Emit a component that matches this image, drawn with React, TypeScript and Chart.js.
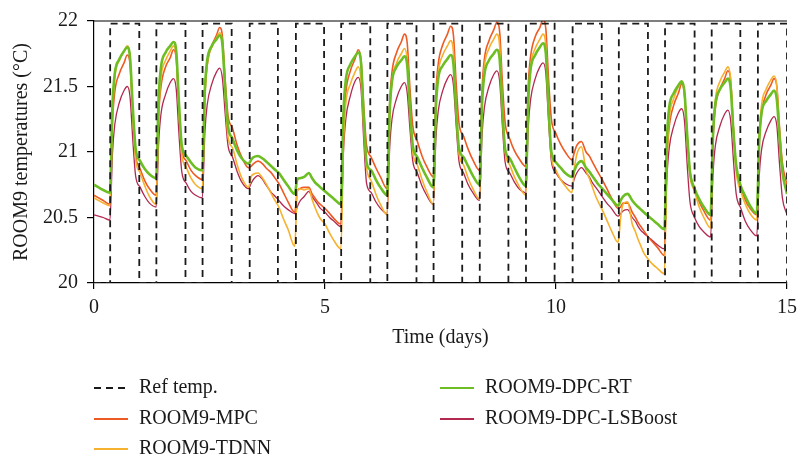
import React, { useEffect, useRef } from "react";
import { Chart, registerables } from "chart.js";

Chart.register(...registerables);

// ---- sampling grid (days) ----
const DAYS = [0, 1, 2, 3, 4, 5, 6, 7, 8, 9, 10, 11, 12, 13, 14];
const SAMPLE_OFFSETS = [0, 0.1, 0.2, 0.345, 0.4, 0.45, 0.55, 0.65, 0.72, 0.78, 0.84, 0.9];
const END_TIME = 15;

// ---- reference set-point (step) ----
const refTimes = [0, 0.35, 0.98, 1.35, 1.98, 2.35, 2.98, 3.37, 3.98, 4.37, 4.98, 5.35, 5.98, 6.35, 6.98, 7.35, 7.97, 8.35, 8.97, 9.35, 9.97, 10.36, 10.99, 11.36, 11.99, 12.36, 13.0, 13.37, 13.99, 14.37, 15];
const refValues = [20, 21.98, 20, 21.98, 20, 21.98, 20, 21.98, 20, 21.98, 20, 21.98, 20, 21.98, 20, 21.98, 20, 21.98, 20, 21.98, 20, 21.98, 20, 21.98, 20, 21.98, 20, 21.98, 20, 21.98, 20];

// ---- series (one value per sample of the grid, last = day 15) ----
const mpcValues = [
  20.67, 20.65, 20.63, 20.60, 21.23, 21.46, 21.60, 21.68, 21.74, 21.67, 21.28, 20.98,
  20.87, 20.78, 20.72, 20.67, 21.28, 21.50, 21.65, 21.72, 21.78, 21.71, 21.32, 21.02,
  20.93, 20.86, 20.82, 20.79, 21.43, 21.66, 21.81, 21.89, 21.95, 21.88, 21.55, 21.28,
  21.18, 21.05, 20.96, 20.88, 20.89, 20.91, 20.93, 20.91, 20.88, 20.86, 20.84, 20.81,
  20.76, 20.69, 20.62, 20.54, 20.70, 20.72, 20.73, 20.73, 20.68, 20.65, 20.62, 20.60,
  20.57, 20.53, 20.49, 20.45, 21.18, 21.45, 21.62, 21.71, 21.78, 21.70, 21.34, 21.05,
  20.96, 20.88, 20.81, 20.72, 21.37, 21.61, 21.76, 21.84, 21.90, 21.83, 21.48, 21.20,
  21.08, 20.97, 20.89, 20.81, 21.44, 21.67, 21.82, 21.90, 21.96, 21.89, 21.52, 21.22,
  21.12, 21.02, 20.94, 20.86, 21.48, 21.71, 21.85, 21.93, 21.99, 21.92, 21.53, 21.22,
  21.10, 21.01, 20.95, 20.89, 21.51, 21.73, 21.88, 21.95, 22.01, 21.94, 21.55, 21.25,
  21.14, 21.06, 21.00, 20.94, 21.00, 21.05, 21.08, 21.00, 20.97, 20.93, 20.89, 20.85,
  20.79, 20.72, 20.65, 20.57, 20.58, 20.61, 20.61, 20.54, 20.50, 20.46, 20.43, 20.40,
  20.35, 20.31, 20.27, 20.21, 20.93, 21.19, 21.36, 21.45, 21.52, 21.44, 21.12, 20.85,
  20.72, 20.62, 20.55, 20.48, 21.11, 21.34, 21.48, 21.56, 21.62, 21.55, 21.18, 20.88,
  20.73, 20.63, 20.57, 20.52, 21.09, 21.30, 21.44, 21.51, 21.56, 21.50, 21.18, 20.92,
  20.75,
];

const tdnnValues = [
  20.65, 20.63, 20.61, 20.59, 21.30, 21.57, 21.70, 21.77, 21.81, 21.72, 21.29, 20.95,
  20.84, 20.74, 20.66, 20.60, 21.30, 21.57, 21.70, 21.77, 21.81, 21.73, 21.31, 20.98,
  20.88, 20.80, 20.75, 20.72, 21.41, 21.67, 21.80, 21.87, 21.91, 21.83, 21.44, 21.12,
  21.03, 20.90, 20.80, 20.73, 20.81, 20.83, 20.84, 20.80, 20.76, 20.72, 20.68, 20.64,
  20.58, 20.49, 20.41, 20.28, 20.70, 20.72, 20.71, 20.72, 20.64, 20.58, 20.53, 20.49,
  20.45, 20.38, 20.32, 20.26, 21.07, 21.37, 21.52, 21.61, 21.65, 21.55, 21.19, 20.88,
  20.78, 20.68, 20.60, 20.52, 21.26, 21.54, 21.68, 21.75, 21.79, 21.70, 21.32, 21.00,
  20.90, 20.79, 20.70, 20.60, 21.33, 21.60, 21.74, 21.81, 21.85, 21.76, 21.33, 20.99,
  20.90, 20.80, 20.72, 20.64, 21.37, 21.65, 21.79, 21.86, 21.90, 21.81, 21.36, 21.00,
  20.90, 20.81, 20.74, 20.67, 21.38, 21.65, 21.79, 21.86, 21.90, 21.81, 21.34, 20.97,
  20.86, 20.79, 20.74, 20.69, 20.88, 20.98, 21.04, 20.86, 20.80, 20.74, 20.68, 20.63,
  20.56, 20.48, 20.40, 20.31, 20.50, 20.60, 20.62, 20.45, 20.39, 20.33, 20.28, 20.23,
  20.18, 20.14, 20.11, 20.07, 20.92, 21.25, 21.41, 21.50, 21.54, 21.44, 21.11, 20.82,
  20.70, 20.58, 20.50, 20.42, 21.13, 21.40, 21.54, 21.61, 21.65, 21.56, 21.17, 20.85,
  20.70, 20.60, 20.53, 20.48, 21.12, 21.36, 21.48, 21.55, 21.58, 21.50, 21.14, 20.85,
  20.70,
];

const dpcRtValues = [
  20.75, 20.73, 20.71, 20.69, 21.36, 21.60, 21.71, 21.77, 21.80, 21.72, 21.34, 21.03,
  20.93, 20.87, 20.83, 20.80, 21.42, 21.65, 21.76, 21.81, 21.84, 21.77, 21.37, 21.05,
  20.97, 20.92, 20.88, 20.86, 21.48, 21.70, 21.81, 21.86, 21.89, 21.82, 21.48, 21.20,
  21.10, 21.01, 20.95, 20.91, 20.94, 20.96, 20.97, 20.95, 20.93, 20.91, 20.89, 20.87,
  20.84, 20.79, 20.74, 20.68, 20.79, 20.80, 20.81, 20.84, 20.80, 20.77, 20.75, 20.73,
  20.70, 20.67, 20.64, 20.60, 21.30, 21.55, 21.67, 21.73, 21.76, 21.68, 21.26, 20.92,
  20.86, 20.79, 20.73, 20.67, 21.31, 21.54, 21.65, 21.70, 21.73, 21.66, 21.32, 21.05,
  20.96, 20.88, 20.81, 20.73, 21.34, 21.56, 21.66, 21.71, 21.74, 21.67, 21.31, 21.03,
  20.96, 20.89, 20.82, 20.75, 21.37, 21.59, 21.70, 21.75, 21.78, 21.71, 21.32, 21.02,
  20.95, 20.88, 20.81, 20.74, 21.39, 21.63, 21.74, 21.80, 21.83, 21.75, 21.33, 21.00,
  20.92, 20.88, 20.84, 20.81, 20.86, 20.90, 20.93, 20.88, 20.85, 20.82, 20.79, 20.76,
  20.72, 20.68, 20.64, 20.59, 20.63, 20.66, 20.68, 20.63, 20.60, 20.58, 20.56, 20.54,
  20.51, 20.48, 20.45, 20.41, 21.09, 21.34, 21.45, 21.51, 21.54, 21.46, 21.13, 20.85,
  20.72, 20.64, 20.58, 20.52, 21.14, 21.37, 21.48, 21.53, 21.56, 21.49, 21.16, 20.90,
  20.74, 20.66, 20.59, 20.53, 21.09, 21.30, 21.39, 21.44, 21.47, 21.40, 21.10, 20.85,
  20.68,
];

const lsBoostValues = [
  20.52, 20.51, 20.50, 20.48, 20.99, 21.21, 21.38, 21.47, 21.50, 21.42, 21.09, 20.82,
  20.73, 20.66, 20.61, 20.58, 21.07, 21.29, 21.44, 21.53, 21.56, 21.48, 21.13, 20.85,
  20.76, 20.70, 20.67, 20.65, 21.15, 21.36, 21.52, 21.61, 21.64, 21.56, 21.29, 21.05,
  20.96, 20.85, 20.77, 20.72, 20.76, 20.79, 20.82, 20.79, 20.75, 20.72, 20.69, 20.67,
  20.63, 20.59, 20.56, 20.53, 20.58, 20.62, 20.66, 20.70, 20.66, 20.63, 20.60, 20.57,
  20.54, 20.50, 20.47, 20.43, 21.00, 21.25, 21.43, 21.54, 21.57, 21.48, 21.08, 20.76,
  20.69, 20.62, 20.57, 20.53, 21.03, 21.25, 21.41, 21.50, 21.53, 21.45, 21.17, 20.93,
  20.84, 20.74, 20.67, 20.60, 21.10, 21.31, 21.47, 21.56, 21.59, 21.51, 21.20, 20.93,
  20.84, 20.75, 20.69, 20.63, 21.13, 21.34, 21.50, 21.59, 21.62, 21.54, 21.20, 20.92,
  20.84, 20.77, 20.72, 20.69, 21.19, 21.40, 21.56, 21.65, 21.68, 21.60, 21.23, 20.93,
  20.84, 20.79, 20.76, 20.74, 20.80, 20.84, 20.88, 20.84, 20.81, 20.77, 20.74, 20.71,
  20.66, 20.61, 20.57, 20.51, 20.53, 20.55, 20.56, 20.50, 20.47, 20.43, 20.40, 20.38,
  20.35, 20.32, 20.29, 20.26, 20.80, 21.03, 21.20, 21.30, 21.33, 21.24, 20.90, 20.62,
  20.50, 20.43, 20.39, 20.35, 20.84, 21.05, 21.20, 21.29, 21.32, 21.24, 20.94, 20.68,
  20.57, 20.47, 20.41, 20.36, 20.82, 21.02, 21.16, 21.24, 21.27, 21.20, 20.90, 20.65,
  20.52,
];

const xTicks = [0, 5, 10, 15];
const yTicks = [20, 20.5, 21, 21.5, 22];
const xTickLabels = ["0", "5", "10", "15"];
const yTickLabels = ["20", "20.5", "21", "21.5", "22"];

const timeDays: number[] = [
  ...DAYS.flatMap((d) => SAMPLE_OFFSETS.map((o) => Math.round((d + o) * 1000) / 1000)),
  END_TIME,
];

const FONT = "'Liberation Serif', 'DejaVu Serif', serif";
const TEXT = "#1a1a1a";

const SERIES = [
  { label: "Ref temp.", color: "#1a1a1a", width: 1.8, dash: [7, 5], col: 0, row: 0 },
  { label: "ROOM9-MPC", color: "#EE5A24", width: 1.6, dash: [], col: 0, row: 1 },
  { label: "ROOM9-TDNN", color: "#F6B12E", width: 1.6, dash: [], col: 0, row: 2 },
  { label: "ROOM9-DPC-RT", color: "#6CBE22", width: 2.6, dash: [], col: 1, row: 0 },
  { label: "ROOM9-DPC-LSBoost", color: "#B2284F", width: 1.3, dash: [], col: 1, row: 1 },
];

const toXY = (xs: number[], ys: number[]) => xs.map((x, i) => ({ x, y: ys[i] }));

const labelFor = (values: number[], labels: string[], v: number) => {
  const i = values.findIndex((t) => Math.abs(t - v) < 1e-9);
  return i >= 0 ? labels[i] : "";
};

const legendPlugin = {
  id: "customLegend",
  afterDraw(chart: any) {
    const { ctx, chartArea } = chart;
    const colX = [chartArea.left, 440];
    const rowY = [388, 419, 449];
    ctx.save();
    ctx.font = `20px ${FONT}`;
    ctx.textBaseline = "middle";
    ctx.textAlign = "left";
    SERIES.forEach((s) => {
      const x = colX[s.col];
      const y = rowY[s.row];
      ctx.beginPath();
      ctx.strokeStyle = s.color;
      ctx.lineWidth = s.dash.length ? 1.8 : 2;
      ctx.setLineDash(s.dash);
      ctx.moveTo(x, y);
      ctx.lineTo(x + 34, y);
      ctx.stroke();
      ctx.setLineDash([]);
      ctx.fillStyle = TEXT;
      ctx.fillText(s.label, x + 45, y);
    });
    ctx.restore();
  },
};

const frameTopPlugin = {
  id: "frameTop",
  afterDraw(chart: any) {
    const { ctx, chartArea } = chart;
    ctx.save();
    ctx.strokeStyle = "#000";
    ctx.lineWidth = 1.2;
    ctx.beginPath();
    ctx.moveTo(chartArea.left, chartArea.top);
    ctx.lineTo(chartArea.right, chartArea.top);
    ctx.stroke();
    ctx.restore();
  },
};

export default function App() {
  const canvasRef = useRef<HTMLCanvasElement | null>(null);

  useEffect(() => {
    document.body.style.margin = "0";
    const canvas = canvasRef.current;
    if (!canvas) return;
    const seriesData = [
      toXY(refTimes, refValues),
      toXY(timeDays, mpcValues),
      toXY(timeDays, tdnnValues),
      toXY(timeDays, dpcRtValues),
      toXY(timeDays, lsBoostValues),
    ];
    const drawOrder = [0, 3, 2, 1, 4];
    const chart = new Chart(canvas, {
      type: "line",
      data: {
        datasets: SERIES.map((s, i) => ({
          label: s.label,
          data: seriesData[i],
          borderColor: s.color,
          backgroundColor: s.color,
          borderWidth: s.width,
          borderDash: s.dash,
          pointRadius: 0,
          fill: false,
          stepped: i === 0 ? true : false,
          cubicInterpolationMode: i === 0 ? "default" : "monotone",
          order: drawOrder[i],
        })),
      },
      options: {
        responsive: false,
        animation: false,
        devicePixelRatio: 1,
        layout: { padding: { left: 0, right: 10, top: 13, bottom: 114 } },
        plugins: {
          legend: { display: false },
          tooltip: { enabled: false },
        },
        scales: {
          x: {
            type: "linear",
            min: 0,
            max: 15,
            afterBuildTicks: (scale: any) => {
              scale.ticks = xTicks.map((v) => ({ value: v }));
            },
            ticks: {
              font: { family: FONT, size: 20 },
              color: TEXT,
              padding: 7,
              maxRotation: 0,
              callback: (v: any) => labelFor(xTicks, xTickLabels, Number(v)),
            },
            grid: { drawOnChartArea: false, drawTicks: true, tickLength: 6, color: "#000", lineWidth: 1.2 },
            border: { display: true, color: "#000", width: 1.2 },
            title: {
              display: true,
              text: "Time (days)",
              font: { family: FONT, size: 20 },
              color: TEXT,
              padding: { top: 0, bottom: 0 },
            },
            afterFit: (scale: any) => {
              scale.height = 67;
            },
          },
          y: {
            min: 20,
            max: 22,
            afterBuildTicks: (scale: any) => {
              scale.ticks = yTicks.map((v) => ({ value: v }));
            },
            ticks: {
              font: { family: FONT, size: 20 },
              color: TEXT,
              padding: 9,
              callback: (v: any) => labelFor(yTicks, yTickLabels, Number(v)),
            },
            grid: { drawOnChartArea: false, drawTicks: true, tickLength: 7, color: "#000", lineWidth: 1.2 },
            border: { display: true, color: "#000", width: 1.2 },
            title: {
              display: true,
              text: "ROOM9 temperatures (°C)",
              font: { family: FONT, size: 20 },
              color: TEXT,
              padding: { top: 10, bottom: 0 },
            },
            afterFit: (scale: any) => {
              scale.width = 94;
            },
          },
        },
      },
      plugins: [legendPlugin, frameTopPlugin],
    });
    return () => chart.destroy();
  }, []);

  return (
    <div style={{ position: "relative", width: 804, height: 464, background: "#fff" }}>
      <canvas ref={canvasRef} width={804} height={464} style={{ width: 804, height: 464, display: "block" }} />
    </div>
  );
}
